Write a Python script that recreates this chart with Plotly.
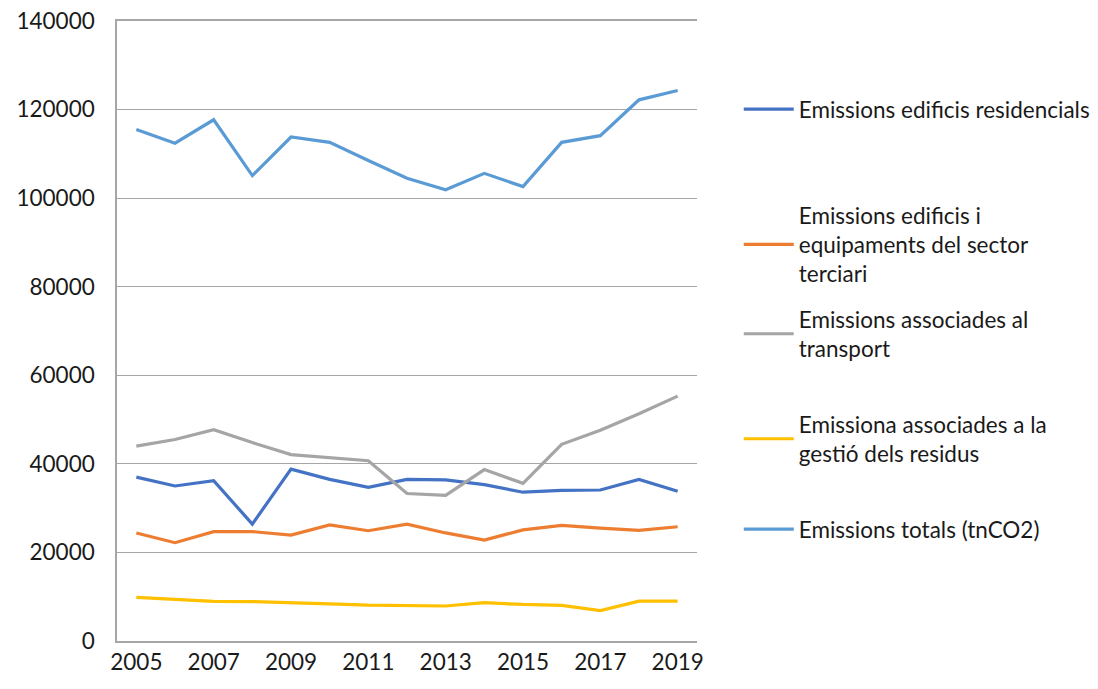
import plotly.graph_objects as go

years = list(range(2005, 2020))

residencials = [37000, 35000, 36200, 26400, 38800, 36500, 34700, 36500, 36400, 35300, 33600, 34000, 34100, 36500, 33800]
terciari = [24400, 22200, 24700, 24700, 23900, 26200, 24900, 26400, 24400, 22800, 25100, 26100, 25500, 25000, 25800]
transport = [44000, 45500, 47700, 44800, 42100, 41400, 40700, 33300, 32900, 38700, 35600, 44400, 47600, 51300, 55300]
residus = [9850, 9400, 8950, 8900, 8700, 8400, 8100, 8050, 7900, 8650, 8250, 8050, 6850, 9000, 9000]
totals = [115500, 112400, 117700, 105100, 113800, 112600, 108500, 104500, 101900, 105600, 102600, 112600, 114100, 122200, 124300]

series = [
    ("Emissions edificis residencials", residencials, "#4472C4"),
    ("Emissions edificis i<br>equipaments del sector<br>terciari", terciari, "#ED7D31"),
    ("Emissions associades al<br>transport", transport, "#A5A5A5"),
    ("Emissiona associades a la<br>gestió dels residus", residus, "#FFC000"),
    ("Emissions totals (tnCO2)", totals, "#5B9BD5"),
]

# page has an 8px body margin, so the figure is a bit smaller than the window
W, H = 1090, 681
plot_left, plot_right, plot_top, plot_bottom = 109, 689, 13, 633

# one legend per entry so the uneven spacing of the original can be kept
legend_tops = [88, 194, 298, 403, 508]

FONT = "Lato, Open Sans, sans-serif"
TEXT = "#1a1a1a"

fig = go.Figure()
legends = {}
for i, (name, vals, color) in enumerate(series):
    key = "legend" if i == 0 else f"legend{i + 1}"
    fig.add_trace(
        go.Scatter(x=years, y=vals, mode="lines", name=name, line=dict(color=color, width=3.2), legend=key)
    )
    legends[key] = dict(
        x=1.072,
        xanchor="left",
        y=(plot_bottom - (legend_tops[i] - 8)) / (plot_bottom - plot_top),
        yanchor="top",
        font=dict(family=FONT, size=22.5, color=TEXT),
        bgcolor="rgba(0,0,0,0)",
        itemwidth=50,
    )

fig.update_layout(
    width=W,
    height=H,
    margin=dict(l=plot_left, r=W - plot_right, t=plot_top, b=H - plot_bottom, autoexpand=False),
    paper_bgcolor="white",
    plot_bgcolor="white",
    showlegend=True,
    font=dict(family=FONT, size=22.5, color=TEXT),
    **legends,
)
fig.update_xaxes(
    range=[2004.5, 2019.5],
    tickvals=list(range(2005, 2020, 2)),
    showgrid=False,
    showline=True,
    mirror=True,  # top line stands in for the 140000 gridline
    linecolor="#A6A6A6",
    linewidth=1.5,
    ticks="",
    automargin=False,
    zeroline=False,
)
fig.update_yaxes(
    range=[0, 140000],
    tickvals=list(range(0, 140001, 20000)),
    tickformat="d",
    showgrid=True,
    gridcolor="#A6A6A6",
    gridwidth=1,
    showline=True,
    linecolor="#A6A6A6",
    linewidth=1.5,
    ticks="",
    ticklabelstandoff=16,
    ticklabeloverflow="allow",
    automargin=False,
    zeroline=False,
)

fig.write_html("out.html")
